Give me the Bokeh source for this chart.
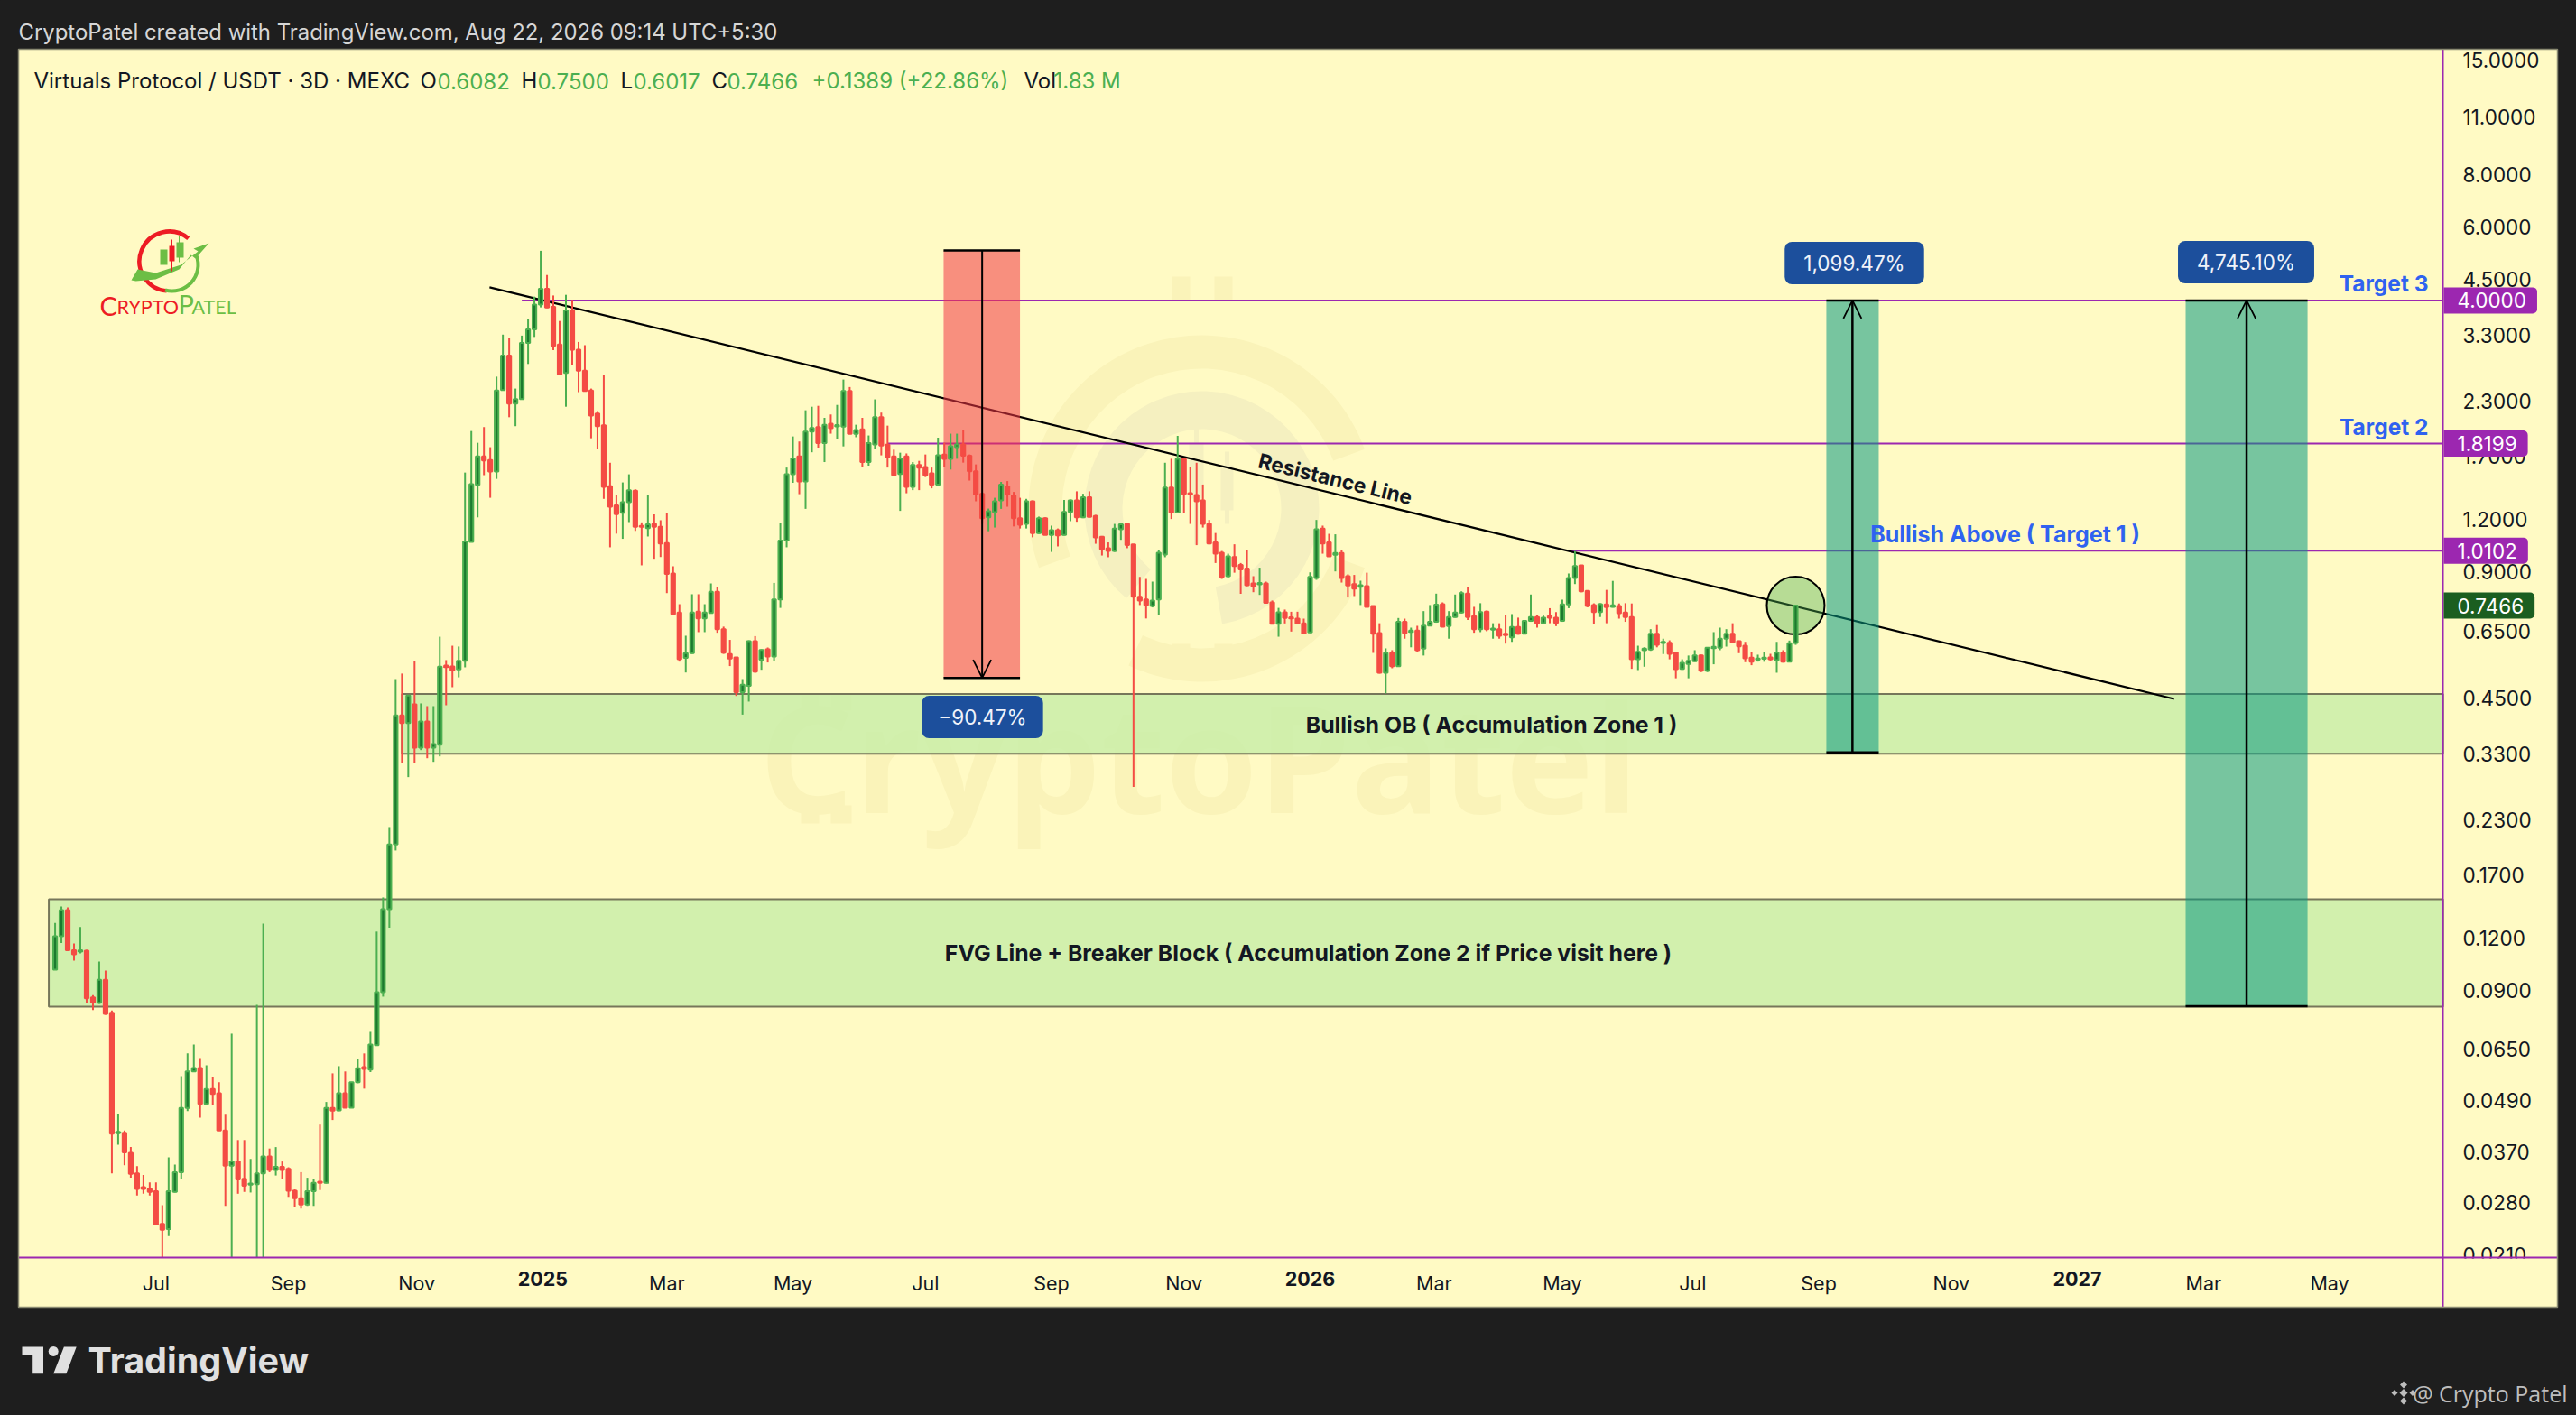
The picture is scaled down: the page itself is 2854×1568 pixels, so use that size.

import math
import pandas as pd
from bokeh.plotting import figure
from bokeh.embed import file_html
from bokeh.resources import INLINE
from bokeh.models import (Label, Range1d, LinearScale, FixedTicker,
                          NumeralTickFormatter, DatetimeTickFormatter, DatetimeAxis, Arrow, OpenHead)

opens = [.1008,.1211,.1399,.1122,.1114,.1119,.0865,.0840,.0953,.0795,
.0410,.0411,.0368,.0329,.0305,.0302,.0298,.0249,.0242,.0297,
.0331,.0471,.0576,.0587,.0482,.0523,.0511,.0416,.0343,.0351,
.0319,.0309,.0310,.0329,.0361,.0335,.0341,.0337,.0299,.0287,
.0277,.0298,.0314,.0312,.0471,.0465,.0511,.0472,.0543,.0590,
.0582,.0665,.0891,.1406,.2008,.4082,.3915,.4338,.3419,.3948,
.3419,.3475,.5370,.5344,.5257,.5508,1.060,1.450,1.697,1.663,
1.560,2.443,2.954,2.267,2.325,3.167,3.412,3.911,4.265,3.862,
3.140,2.684,3.786,3.052,2.718,2.437,2.147,2.014,1.439,1.296,
1.243,1.319,1.404,1.158,1.143,1.170,1.151,1.053,.8909,.7186,
.5598,.5748,.7222,.6961,.7172,.8055,.6559,.5720,.5615,.4638,
.4803,.6143,.5543,.5872,.5643,.7724,1.068,1.537,1.697,1.477,
1.943,1.992,1.824,2.03,2.0,1.999,2.431,1.919,1.968,1.644,
1.811,2.105,1.809,1.697,1.540,1.697,1.434,1.617,1.600,1.546,
1.453,1.714,1.674,1.785,1.811,1.702,1.562,1.381,1.213,1.248,
1.331,1.438,1.366,1.208,1.170,1.325,1.113,1.208,1.102,1.130,
1.102,1.250,1.331,1.213,1.355,1.223,1.090,1.024,1.008,1.136,
1.170,1.046,.7838,.7724,.7453,.7724,.9886,1.430,1.245,1.673,
1.385,1.371,1.331,1.170,1.057,.9990,.8777,.9752,.9335,.9157,
.8434,.8390,.8434,.7600,.6754,.7197,.7000,.6950,.6773,.6447,
.8690,1.141,1.057,.9870,.9975,.8777,.8405,.8279,.8306,.7453,
.6421,.5161,.5756,.5352,.6829,.6463,.6508,.5892,.6690,.6829,
.7527,.6670,.7012,.7186,.7974,.7045,.6559,.7222,.6538,.6559,
.6399,.6270,.6637,.6399,.6864,.7012,.6776,.7045,.6988,.6864,
.7515,.8690,.9317,.8101,.7490,.7205,.7515,.7415,.7453,.7186,
.7012,.5557,.5843,.5863,.6399,.6081,.6090,.5765,.5273,.5415,
.5495,.5680,.5220,.5910,.5921,.6224,.6399,.6136,.5988,.5608,
.5543,.5570,.5615,.5530,.5765,.5482,.6082]

closes = [.1211,.1399,.1122,.1097,.1122,.0861,.0842,.0953,.0791,.0409,
.0413,.0369,.0328,.0302,.0302,.0297,.0248,.0241,.0298,.0331,
.0471,.0576,.0587,.0482,.0523,.0509,.0416,.0343,.0351,.0318,
.0307,.0311,.0329,.0361,.0335,.0341,.0335,.0299,.0287,.0277,
.0298,.0312,.0312,.0471,.0464,.0511,.0472,.0543,.0586,.0584,
.0668,.0891,.1406,.2008,.4082,.3915,.4551,.3419,.3948,.3419,
.3488,.5336,.5324,.5231,.5508,1.063,1.456,1.697,1.658,1.560,
2.438,2.954,2.267,2.325,3.167,3.412,3.911,4.265,3.849,3.114,
2.664,3.786,3.052,2.718,2.430,2.122,2.003,1.434,1.286,1.235,
1.319,1.408,1.151,1.151,1.168,1.151,1.051,.8881,.7126,.5557,
.5748,.7186,.6961,.7186,.8055,.6559,.5760,.5580,.4638,.4835,
.6143,.5192,.5852,.5643,.7724,1.068,1.537,1.678,1.477,1.943,
1.983,1.824,2.019,1.980,2.016,2.431,1.919,1.960,1.644,1.824,
2.105,1.800,1.689,1.530,1.676,1.434,1.617,1.595,1.530,1.453,
1.706,1.674,1.794,1.811,1.702,1.562,1.375,1.208,1.254,1.325,
1.453,1.375,1.208,1.164,1.325,1.113,1.208,1.102,1.130,1.098,
1.250,1.331,1.213,1.355,1.216,1.087,1.019,1.008,1.141,1.168,
1.041,.7838,.7680,.7490,.7680,.9990,1.430,1.245,1.673,1.381,
1.378,1.325,1.170,1.050,.9933,.8743,.9786,.9283,.9106,.8347,
.8306,.8459,.7583,.6754,.7197,.6973,.6955,.6773,.6406,.8743,
1.136,1.050,.9786,.9975,.8690,.8336,.8198,.8347,.7415,.6399,
.5161,.5756,.5352,.6829,.6421,.6508,.5843,.6690,.6829,.7502,
.6649,.7012,.7186,.7997,.7012,.6559,.7205,.6559,.6582,.6326,
.6347,.6637,.6399,.6864,.7012,.6776,.6988,.6988,.6787,.7515,
.8690,.9283,.8076,.7453,.7205,.7527,.7402,.7479,.7161,.7012,
.5557,.5794,.5892,.6399,.6021,.6117,.5727,.5265,.5450,.5508,
.5680,.5220,.5921,.5951,.6224,.6399,.6106,.5968,.5588,.5487,
.5580,.5608,.5557,.5765,.5482,.6068,.7466]

highs = [.1303,.1427,.1420,.1164,.1274,.1125,.0876,.1054,.1003,.0805,
.0455,.0416,.0380,.0342,.0326,.0313,.0313,.0276,.0359,.0345,
.0561,.0636,.0668,.0620,.0596,.0558,.0543,.0454,.0709,.0395,
.0395,.0356,.0831,.1299,.0377,.0380,.0351,.0340,.0301,.0331,
.0321,.0318,.0430,.0487,.0570,.0593,.0576,.0544,.0617,.0636,
.0716,.1243,.1500,.2209,.4984,.5138,.4556,.5504,.4360,.4295,
.4295,.6292,.5533,.5988,.5962,1.552,1.950,1.828,1.993,1.784,
2.630,3.314,3.252,2.463,3.296,3.607,4.084,5.255,4.600,4.110,
3.572,4.125,4.012,3.183,3.127,2.463,2.176,2.652,1.638,1.371,
1.470,1.537,1.415,1.180,1.371,1.233,1.194,1.242,.9269,.7524,
.6326,.7948,.7948,.7524,.8434,.8276,.6650,.6184,.5615,.4984,
.6168,.6312,.5872,.5930,.8459,1.178,1.595,1.893,1.841,2.186,
2.229,2.240,2.097,2.136,2.251,2.588,2.484,2.019,2.097,1.903,
2.321,2.158,2.009,1.760,1.731,1.724,1.644,1.655,1.714,1.595,
1.880,1.828,1.922,1.922,1.960,1.714,1.623,1.392,1.273,1.351,
1.474,1.481,1.395,1.351,1.343,1.331,1.218,1.213,1.159,1.141,
1.335,1.338,1.400,1.381,1.400,1.230,1.095,1.057,1.170,1.176,
1.178,1.046,.8743,.8646,.8519,1.013,1.638,1.674,1.899,1.686,
1.603,1.638,1.453,1.196,1.113,1.008,.9933,1.046,.9436,1.012,
.8777,.9197,.8519,.7680,.7373,.7306,.7218,.7218,.6950,.8964,
1.196,1.159,1.108,1.105,1.011,.8866,.8838,.8562,.8947,.7453,
.6776,.5902,.5843,.6974,.6950,.6614,.6680,.7244,.7490,.7974,
.7600,.7244,.7936,.8076,.8276,.7415,.7566,.7265,.6776,.6776,
.7101,.7126,.6988,.6885,.7936,.7090,.7065,.7361,.7205,.7715,
.8909,1.008,.9328,.8112,.7560,.7566,.8141,.8553,.7555,.7566,
.7555,.5988,.5936,.6559,.6707,.6224,.6168,.5785,.5557,.5674,
.5843,.5700,.5936,.6453,.6614,.6559,.6776,.6160,.6117,.5794,
.5700,.5794,.5727,.6117,.5843,.6160,.7500]

lows = [.1008,.1167,.1122,.1059,.1103,.0837,.0807,.0835,.0787,.0329,
.0385,.0344,.0321,.0291,.0294,.0291,.0247,.0207,.0233,.0296,
.0319,.0463,.0574,.0447,.0479,.0478,.0416,.0275,.0207,.0294,
.0297,.0296,.0207,.0207,.0331,.0325,.0319,.0289,.0273,.0271,
.0275,.0275,.0300,.0311,.0441,.0463,.0471,.0471,.0540,.0524,
.0574,.0665,.0869,.1270,.1942,.3147,.2907,.3147,.3373,.3225,
.3162,.3258,.4316,.4767,.5032,.5317,1.060,1.213,1.530,1.351,
1.499,2.443,2.104,2.003,2.325,2.820,3.272,3.849,3.836,3.043,
2.652,2.229,2.801,2.415,2.430,1.874,1.768,1.343,1.029,1.109,
1.078,1.182,1.126,.9317,1.092,.9660,.9754,.7997,.7091,.5487,
.5168,.5727,.6453,.6453,.7161,.6431,.5727,.5354,.4542,.4099,
.4404,.5161,.5246,.5461,.5504,.7373,1.029,1.467,1.378,1.271,
1.735,1.780,1.644,1.922,1.868,1.792,1.919,1.885,1.603,1.612,
1.766,1.706,1.595,1.523,1.257,1.385,1.409,1.409,1.514,1.423,
1.438,1.600,1.578,1.674,1.639,1.485,1.325,1.170,1.124,1.147,
1.271,1.286,1.154,1.141,1.141,1.087,1.108,1.102,1.003,1.034,
1.098,1.188,1.184,1.208,1.213,1.049,.9835,.9743,1.003,1.072,
1.024,.2754,.7490,.6956,.7393,.7072,.9743,1.202,1.245,1.245,
1.170,1.041,1.147,1.046,.9436,.8646,.8690,.8947,.7967,.8306,
.8038,.7920,.7560,.6754,.6292,.6769,.6473,.6769,.6381,.6424,
.8604,.9933,.9786,.9010,.8475,.7807,.7869,.7490,.7402,.5756,
.5138,.4607,.5291,.5335,.6224,.5936,.5794,.5674,.6670,.6795,
.6649,.6224,.6988,.7150,.6898,.6431,.6453,.6485,.6224,.6224,
.6057,.6117,.6364,.6380,.6829,.6614,.6769,.6776,.6670,.6829,
.7362,.8405,.8038,.7402,.6754,.7012,.6776,.7388,.6950,.6829,
.5273,.5238,.5335,.5822,.5936,.5720,.5557,.5006,.5246,.5006,
.5482,.5180,.5180,.5407,.5843,.5959,.6068,.5748,.5470,.5380,
.5487,.5482,.5505,.5161,.5458,.5482,.6017]

first_bar = "2024-05-16"
bar_days = 3
price_ticks = [15, 11, 8, 6, 4.5, 3.3, 2.3, 1.7, 1.2, 0.9, 0.65, 0.45, 0.33, 0.23, 0.17, 0.12, 0.09, 0.065, 0.049, 0.037, 0.028, 0.021]
month_ticks = ["2024-07-03","2024-09-04","2024-11-04","2025-03-03","2025-05-02","2025-07-04","2025-09-02","2025-11-04",
               "2026-03-03","2026-05-03","2026-07-04","2026-09-02","2026-11-04","2027-03-04","2027-05-03"]
year_ticks = ["2025-01-03","2026-01-03","2027-01-03"]
level_prices = [4.0, 1.8199, 1.0102]
level_starts = ["2024-12-24","2025-06-16","2026-05-06"]
level_names = ["4.0000","1.8199","1.0102"]
last_price = 0.7466
zones = [("2024-10-28", 0.459, 0.3307), ("2024-05-13", 0.1485, 0.0823)]
trend_dates = ["2024-12-08 16:00", "2027-02-18"]
trend_prices = [4.30, 0.4469]
short_box = ("2025-07-12 16:00", "2025-08-18", "2025-07-31", 5.265, 0.5018)
long_boxes = [("2026-09-05 14:00", "2026-09-30 12:00", "2026-09-18", 4.0, 0.333),
              ("2027-02-23 12:00", "2027-04-22 12:00", "2027-03-24 12:00", 4.0, 0.0825)]

BG = "#FFFAC4"; DARK = "#1E1E1E"; PURPLE = "#9C27B0"; GREEN = "#4CAF50"; GREEN_IN = "#1C7A2E"; RED = "#F44C44"
BLUE = "#2F62F0"; PILL = "#1C4F9C"; FONT = "Inter"

def ms(s):
    return pd.Timestamp(s).timestamp() * 1000.0

DAY = 86400000.0
dates = [ms(first_bar) + i * bar_days * DAY for i in range(len(opens))]
assert len(opens) == len(closes) == len(highs) == len(lows) == 277

W, H = 2854, 1568
x_start, x_end = ms("2024-04-20"), ms("2027-08-28 10:00")
pane_right = ms("2027-06-25 22:00")
y_start, y_end = 0.008685, 20.82

p = figure(width=W, height=H, x_axis_type="datetime", y_axis_type="log", y_axis_location="right",
           x_range=Range1d(x_start, x_end), y_range=Range1d(y_start, y_end),
           output_backend="svg", toolbar_location=None,
           min_border_left=0, min_border_top=0, min_border_right=0, min_border_bottom=0,
           background_fill_color=DARK, border_fill_color=DARK, outline_line_color=None)
p.grid.visible = False
p.extra_x_ranges["px"] = Range1d(0, W)
p.extra_y_ranges["px"] = Range1d(H, 0)
p.extra_x_scales["px"] = LinearScale()
p.extra_y_scales["px"] = LinearScale()
pxr = dict(x_range_name="px", y_range_name="px")

ya = p.yaxis[0]
ya.ticker = FixedTicker(ticks=price_ticks)
ya.formatter = NumeralTickFormatter(format="0.0000")
ya.major_tick_line_color = None
ya.minor_tick_line_color = None
ya.axis_line_color = None
ya.major_label_standoff = -132
ya.major_label_text_font = FONT
ya.major_label_text_font_size = "22.5px"
ya.major_label_text_color = "#131722"

xa = p.xaxis[0]
xa.ticker = FixedTicker(ticks=[ms(s) for s in month_ticks])
fmt = dict(days="%b", months="%b", years="%b", hours="%b", hourmin="%b", minutes="%b", minsec="%b", seconds="%b", milliseconds="%b", microseconds="%b")
xa.formatter = DatetimeTickFormatter(**fmt)
fmt2 = {k: "%Y" for k in fmt}
ya2 = DatetimeAxis(ticker=FixedTicker(ticks=[ms(s) for s in year_ticks]), formatter=DatetimeTickFormatter(**fmt2))
for a, st in ((xa, "normal"), (ya2, "bold")):
    a.major_tick_line_color = None
    a.minor_tick_line_color = None
    a.axis_line_color = None
    a.major_label_text_font = FONT
    a.major_label_text_font_size = "21.5px"
    a.major_label_text_color = "#131722"
    a.major_label_text_font_style = st
xa.major_label_standoff = -166
ya2.major_label_standoff = -166
p.add_layout(ya2, "below")

def box(l, t, r, b, color, level="glyph"):
    p.quad(left=[l], right=[r], top=[t], bottom=[b], fill_color=color, line_color=None, level=level, **pxr)

def poly(pts, color):
    p.patch(x=[a for a, _ in pts], y=[b for _, b in pts], fill_color=color, line_color=None, **pxr)

def lab(text, x, y, size, color="#131722", align="left", style="normal", font=FONT, level="overlay", **kw):
    p.add_layout(Label(text=text, x=x, y=H - y, x_units="screen", y_units="screen", text_font=font,
                       text_font_size=f"{size}px", text_color=color, text_align=align, text_baseline="middle",
                       text_font_style=style, level=level, **kw))

# chart pane
box(20, 54, 2833, 1448, BG, level="image")

# watermark
WM = "#FAF3B9"; WM2 = "#F5F0C0"
def ring(inner, outer, a0, a1, color):
    p.annular_wedge(x=[1331], y=[563], inner_radius=inner, outer_radius=outer, inner_radius_units="screen", outer_radius_units="screen",
                    start_angle=[math.radians(a0)], end_angle=[math.radians(a1)], direction="anticlock",
                    fill_color=color, line_color=None, level="underlay", **pxr)
ring(155, 192, 20, 200, WM)
ring(155, 192, -115, -20, WM)
ring(88, 130, -80, 230, WM2)
p.quad(left=[1298, 1345, 1298, 1345], right=[1318, 1365, 1318, 1365], top=[306, 306, 713, 713], bottom=[333, 333, 738, 738],
       fill_color=WM, line_color=None, level="underlay", **pxr)
p.quad(left=[1317, 1352], right=[1333, 1366], top=[490, 515], bottom=[552, 565], fill_color=WM2, line_color=None, level="underlay", **pxr)
p.segment(x0=[1325, 1359], x1=[1325, 1359], y0=[464, 500], y1=[603, 580], line_color=WM2, line_width=5, level="underlay", **pxr)
lab("CryptoPatel", 1328, 836, 165, WM, "center", "bold", "Open Sans", "underlay")
p.quad(left=[887, 920, 887, 920], right=[907, 943, 907, 943], top=[770, 770, 892, 892], bottom=[787, 787, 912, 912],
       fill_color=WM, line_color=None, level="underlay", **pxr)

# zones
for left, top, bottom in zones:
    p.quad(left=[ms(left)], right=[pane_right], top=[top], bottom=[bottom], fill_color="#C8EEA8", fill_alpha=0.82,
           line_color="#76765A", line_width=2)

# purple levels
for price, start in zip(level_prices, level_starts):
    p.segment(x0=[ms(start)], x1=[pane_right], y0=[price], y1=[price], line_color=PURPLE, line_width=2)

# trend line
p.line(x=[ms(d) for d in trend_dates], y=trend_prices, line_color="black", line_width=2.2)

# position boxes
l, r, c, t, b = short_box
p.quad(left=[ms(l)], right=[ms(r)], top=[t], bottom=[b], fill_color="#F23645", fill_alpha=0.55, line_color=None)
p.segment(x0=[ms(l)] * 2, x1=[ms(r)] * 2, y0=[t, b], y1=[t, b], line_color="black", line_width=2.5)
p.add_layout(Arrow(end=OpenHead(size=20, line_width=1.8, line_color="black"), x_start=ms(c), x_end=ms(c), y_start=t, y_end=b,
                   line_color="black", line_width=2))
for l, r, c, t, b in long_boxes:
    p.quad(left=[ms(l)], right=[ms(r)], top=[t], bottom=[b], fill_color="#089981", fill_alpha=0.55, line_color=None)
    p.segment(x0=[ms(l)] * 2, x1=[ms(r)] * 2, y0=[t, b], y1=[t, b], line_color="black", line_width=2.5)
    p.add_layout(Arrow(end=OpenHead(size=20, line_width=1.8, line_color="black"), x_start=ms(c), x_end=ms(c), y_start=b, y_end=t,
                       line_color="black", line_width=2.5))

# circle round the last bar
p.scatter(x=[dates[-1]], y=[last_price], marker="circle", size=64, fill_color=GREEN, fill_alpha=0.4, line_color="black", line_width=2)

# candles
idx_up = [i for i in range(len(opens)) if closes[i] >= opens[i]]
idx_dn = [i for i in range(len(opens)) if closes[i] < opens[i]]
p.segment(x0=[dates[i] for i in idx_up], x1=[dates[i] for i in idx_up], y0=[highs[i] for i in idx_up], y1=[lows[i] for i in idx_up],
          line_color=GREEN, line_width=2)
p.segment(x0=[dates[i] for i in idx_dn], x1=[dates[i] for i in idx_dn], y0=[highs[i] for i in idx_dn], y1=[lows[i] for i in idx_dn],
          line_color=RED, line_width=2)
p.vbar(x=[dates[i] for i in idx_up], width=1.8 * DAY, top=[closes[i] for i in idx_up], bottom=[opens[i] for i in idx_up],
       fill_color=GREEN_IN, line_color=GREEN, line_width=2)
p.vbar(x=[dates[i] for i in idx_dn], width=1.8 * DAY, top=[opens[i] for i in idx_dn], bottom=[closes[i] for i in idx_dn],
       fill_color=RED, line_color=RED, line_width=2)

# logo
LR = "#ED1C24"; LG = "#6CBE45"
p.arc(x=[187], y=[289], radius=33, radius_units="screen", start_angle=[math.radians(50)], end_angle=[math.radians(265)],
      direction="anticlock", line_color=LR, line_width=4.5, **pxr)
p.arc(x=[190], y=[293], radius=29, radius_units="screen", start_angle=[math.radians(-105)], end_angle=[math.radians(20)],
      direction="anticlock", line_color=LG, line_width=4, **pxr)
p.patch(x=[145, 152, 172, 200, 219, 214, 231, 216, 211, 198, 172, 150], y=[310, 298, 302, 293, 278, 275, 269, 286, 282, 298, 309, 311],
        fill_color=LG, line_color=None, **pxr)
p.quad(left=[177, 187, 195], right=[185, 193, 203], top=[276, 272, 268], bottom=[293, 289, 285],
       fill_color=[LG, LR, LG], line_color=None, **pxr)
p.segment(x0=[190, 198], x1=[190, 198], y0=[265, 261], y1=[300, 290], line_color=[LR, LG], line_width=1, **pxr)
lab("C", 110, 338, 29, LR, font="Lato")
lab("RYPTO", 129, 339, 21.5, LR, font="Lato")
lab("P", 197, 336, 29, LG, font="Lato")
lab("ATEL", 212, 339, 21.5, LG, font="Lato")

# annotations in the pane
lab("Resistance Line", 1479, 530, 22.7, "#131722", "center", "bold", angle=-13.7, angle_units="deg")
lab("Bullish OB ( Accumulation Zone 1 )", 1652, 802, 24.8, "#131722", "center", "bold")
lab("FVG Line + Breaker Block ( Accumulation Zone 2 if Price visit here )", 1449, 1055, 24.8, "#131722", "center", "bold")
lab("Bullish Above ( Target 1 )", 2221, 591, 25, BLUE, "center", "bold")
lab("Target 3", 2690, 313, 24.5, BLUE, "right", "bold")
lab("Target 2", 2690, 472, 24.5, BLUE, "right", "bold")
lab("\u221290.47%", 1088, 794, 22.5, "#F0F3FA", "center", background_fill_color=PILL, border_radius=8, padding=(18, 10))
lab("1,099.47%", 2054, 291, 22.5, "#F0F3FA", "center", background_fill_color=PILL, border_radius=8, padding=(21, 10))
lab("4,745.10%", 2488, 290, 22.5, "#F0F3FA", "center", background_fill_color=PILL, border_radius=8, padding=(21, 10))

# header
lab("CryptoPatel created with TradingView.com, Aug 22, 2026 09:14 UTC+5:30", 20, 35, 23.9, "#D6D6D6")
lab("Virtuals Protocol / USDT \u00b7 3D \u00b7 MEXC", 37, 89, 24)
for t, x, c in [("O", 465, "#131722"), ("0.6082", 484, GREEN), ("H", 577, "#131722"), ("0.7500", 595, GREEN), ("L", 687, "#131722"),
                ("0.6017", 701, GREEN), ("C", 788, "#131722"), ("0.7466", 805, GREEN), ("+0.1389 (+22.86%)", 899, GREEN),
                ("Vol", 1134, "#131722"), ("1.83 M", 1167, GREEN)]:
    lab(t, x, 89, 24, c)

# rules of the pane
box(2707, 1394, 2832, 1416, BG, level="annotation")
box(20, 1392, 2833, 1394, PURPLE, level="annotation")
box(2705, 54, 2707, 1448, PURPLE, level="annotation")
p.quad(left=[20], right=[2833], top=[54], bottom=[1448], fill_alpha=0, line_color="#8A8A72", line_width=1.5, level="annotation", **pxr)

# price tags
for price, name in zip(level_prices, level_names):
    p.add_layout(Label(text=name, x=2707, y=price, x_units="screen", y_units="data", text_font=FONT, text_font_size="22.5px",
                       text_color="#FFFFFF", text_baseline="middle", background_fill_color=PURPLE,
                       padding=(15, 12, 6, 6), border_radius=(0, 5, 5, 0), level="overlay"))
p.add_layout(Label(text="0.7466", x=2707, y=last_price, x_units="screen", y_units="data", text_font=FONT, text_font_size="22.5px",
                   text_color="#FFFFFF", text_baseline="middle", background_fill_color="#1B5E20",
                   padding=(15, 12, 6, 6), border_radius=(0, 5, 5, 0), level="overlay"))

# footer
FG = "#E0E0E0"
poly([(24, 1492), (47.5, 1492), (47.5, 1521.7), (35.7, 1521.7), (35.7, 1500.7), (24, 1500.7)], FG)
poly([(70.4, 1492), (84.2, 1492), (72.9, 1521.7), (58.7, 1521.7)], FG)
poly([(58.7 + 5.5 * math.cos(a * math.pi / 8), 1497 + 5.5 * math.sin(a * math.pi / 8)) for a in range(16)], FG)
lab("TradingView", 97, 1507, 39.5, FG, style="bold")
G2 = "#BDBDBD"
for dx, dy, r in [(0, 0, 4.5), (-10, 0, 3.5), (10, 0, 3.5), (0, -9, 4), (0, 9, 4)]:
    poly([(2662.5 + dx - r, 1543 + dy), (2662.5 + dx, 1543 + dy - r), (2662.5 + dx + r, 1543 + dy), (2662.5 + dx, 1543 + dy + r)], G2)
lab("@ Crypto Patel", 2844, 1543, 25, G2, "right", font="Open Sans")

html = file_html(p, INLINE)
html = html.replace("</head>", "<style>html,body{background:#1E1E1E;overflow:hidden}</style></head>")
open("out.html", "w", encoding="utf-8").write(html)
